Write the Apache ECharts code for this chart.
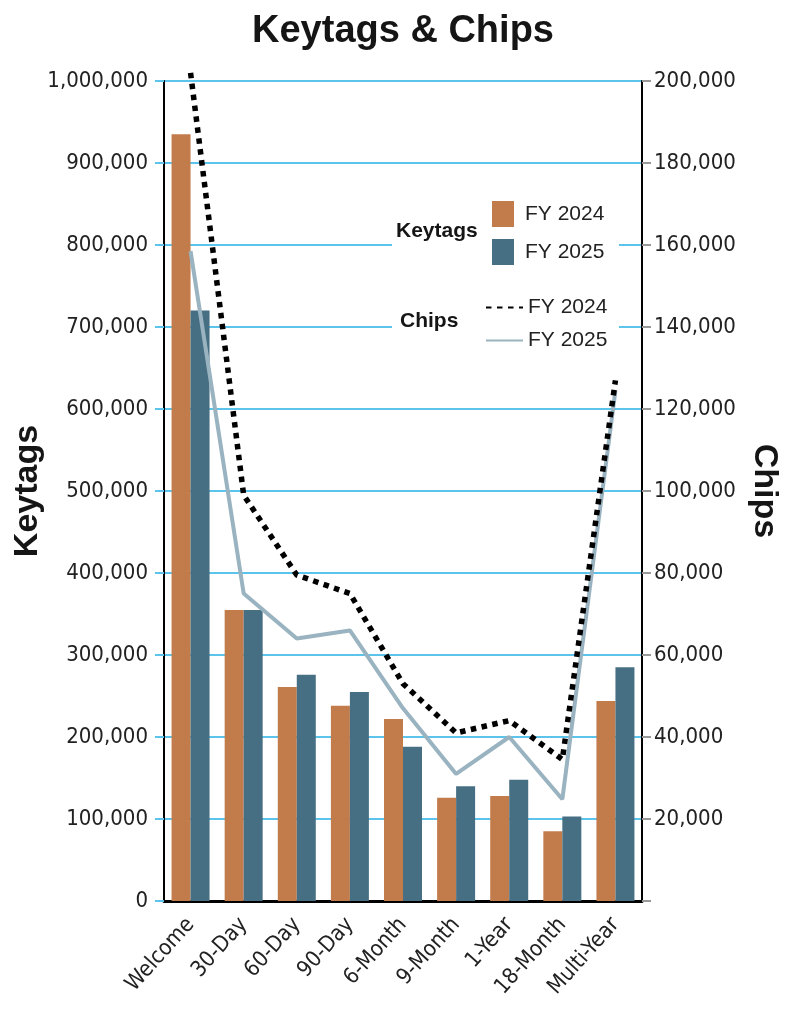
<!DOCTYPE html>
<html lang="en">
<head>
<meta charset="UTF-8">
<title>Keytags & Chips</title>
<script src="https://cdn.jsdelivr.net/npm/echarts@6/dist/echarts.min.js"></script>
<style>
  html, body { margin: 0; padding: 0; background: #fff; }
  #chart { width: 806px; height: 1024px; }
</style>
</head>
<body>
<div id="chart"></div>
<script>
// categories and values
const categories = ['Welcome', '30-Day', '60-Day', '90-Day', '6-Month', '9-Month', '1-Year', '18-Month', 'Multi-Year'];
const keytags2024 = [935000, 355000, 261000, 238000, 222000, 126000, 128000, 85000, 244000];
const keytags2025 = [720000, 355000, 276000, 255000, 188000, 140000, 148000, 103000, 285000];
const chips2024 = [202000, 99000, 79500, 75000, 53000, 41000, 44000, 34500, 127000];
const chips2025 = [158500, 75000, 64000, 66000, 47000, 31000, 40000, 24800, 124500];

const narrow = '"Liberation Sans Narrow", "DejaVu Sans Condensed", "Liberation Sans", sans-serif';
const bold = '"Liberation Sans", Arial, sans-serif';
const gridBlue = '#5cc3ea';
const orange = '#c27b4b';
const slate = '#476f83';
const grey = '#9ab3c0';

const fmt = v => v.toLocaleString('en-US');

const chart = echarts.init(document.getElementById('chart'));
chart.setOption({
  animation: false,
  backgroundColor: '#fff',
  title: {
    text: 'Keytags & Chips',
    left: 'center',
    top: 8,
    textStyle: { fontFamily: bold, fontSize: 38, fontWeight: 'bold', color: '#151515' }
  },
  grid: { left: 164, right: 164, top: 81, bottom: 123, containLabel: false, outerBoundsMode: 'none' },
  graphic: [
    { type: 'rect', z: 1, shape: { x: 392, y: 195, width: 227, height: 167 }, style: { fill: '#fff' } },
    { type: 'text', z: 5, left: 396, top: 221, style: { text: 'Keytags', font: 'bold 21px ' + bold, fill: '#151515' } },
    { type: 'text', z: 5, left: 400, top: 311, style: { text: 'Chips', font: 'bold 21px ' + bold, fill: '#151515' } }
  ],
  legend: [
    {
      data: ['Keytags FY 2024', 'Keytags FY 2025'],
      orient: 'vertical', left: 492, top: 201, padding: 0,
      itemWidth: 22, itemHeight: 26, itemGap: 12, icon: 'rect',
      formatter: n => n.replace(/^\S+ /, ''),
      textStyle: { fontFamily: bold, fontSize: 21, color: '#222', padding: [0, 0, 0, 6] }
    },
    {
      data: ['Chips FY 2024', 'Chips FY 2025'],
      orient: 'vertical', left: 485, top: 297, padding: 0,
      itemWidth: 37, itemHeight: 26, itemGap: 12,
      itemStyle: { opacity: 0 },
      formatter: n => n.replace(/^\S+ /, ''),
      textStyle: { fontFamily: bold, fontSize: 21, color: '#222', padding: [0, 0, 0, 0] }
    }
  ],
  xAxis: {
    type: 'category',
    data: categories,
    axisLine: { lineStyle: { color: '#000', width: 3 } },
    axisTick: { show: false },
    axisLabel: { rotate: 48, fontFamily: narrow, fontSize: 22, color: '#222', margin: 20, interval: 0 }
  },
  yAxis: [
    {
      type: 'value', min: 0, max: 1000000, interval: 100000,
      name: 'Keytags', nameLocation: 'middle', nameRotate: 90, nameGap: 119, nameMoveOverlap: false,
      nameTextStyle: { fontFamily: bold, fontSize: 34, fontWeight: 'bold', color: '#151515' },
      axisLine: { show: true, lineStyle: { color: '#000', width: 2 } },
      axisTick: { show: true, length: 9, lineStyle: { color: gridBlue, width: 2 } },
      axisLabel: { formatter: fmt, fontFamily: narrow, fontSize: 22, color: '#222', margin: 16 },
      splitLine: { show: true, lineStyle: { color: gridBlue, width: 2 } }
    },
    {
      type: 'value', min: 0, max: 200000, interval: 20000,
      name: 'Chips', nameLocation: 'middle', nameRotate: -90, nameGap: 105, nameMoveOverlap: false,
      nameTextStyle: { fontFamily: bold, fontSize: 34, fontWeight: 'bold', color: '#151515' },
      axisLine: { show: true, lineStyle: { color: '#000', width: 2 } },
      axisTick: { show: true, length: 9, lineStyle: { color: '#999', width: 2 } },
      axisLabel: { formatter: v => (v === 0 ? '' : fmt(v)), fontFamily: narrow, fontSize: 22, color: '#222', margin: 12 },
      splitLine: { show: false }
    }
  ],
  series: [
    {
      name: 'Keytags FY 2024', type: 'bar', yAxisIndex: 0, data: keytags2024,
      barWidth: 19, barGap: '0%', itemStyle: { color: orange }, z: 2
    },
    {
      name: 'Keytags FY 2025', type: 'bar', yAxisIndex: 0, data: keytags2025,
      barWidth: 19, barGap: '0%', itemStyle: { color: slate }, z: 2
    },
    {
      name: 'Chips FY 2025', type: 'line', yAxisIndex: 1, data: chips2025,
      symbol: 'none', clip: false, z: 3,
      lineStyle: { color: grey, width: 4 }, itemStyle: { color: grey }
    },
    {
      name: 'Chips FY 2024', type: 'line', yAxisIndex: 1, data: chips2024,
      symbol: 'none', clip: false, z: 4,
      lineStyle: { color: '#000', width: 5.5, type: [5.5, 5.5] }, itemStyle: { color: '#000' }
    }
  ]
});
</script>
</body>
</html>
